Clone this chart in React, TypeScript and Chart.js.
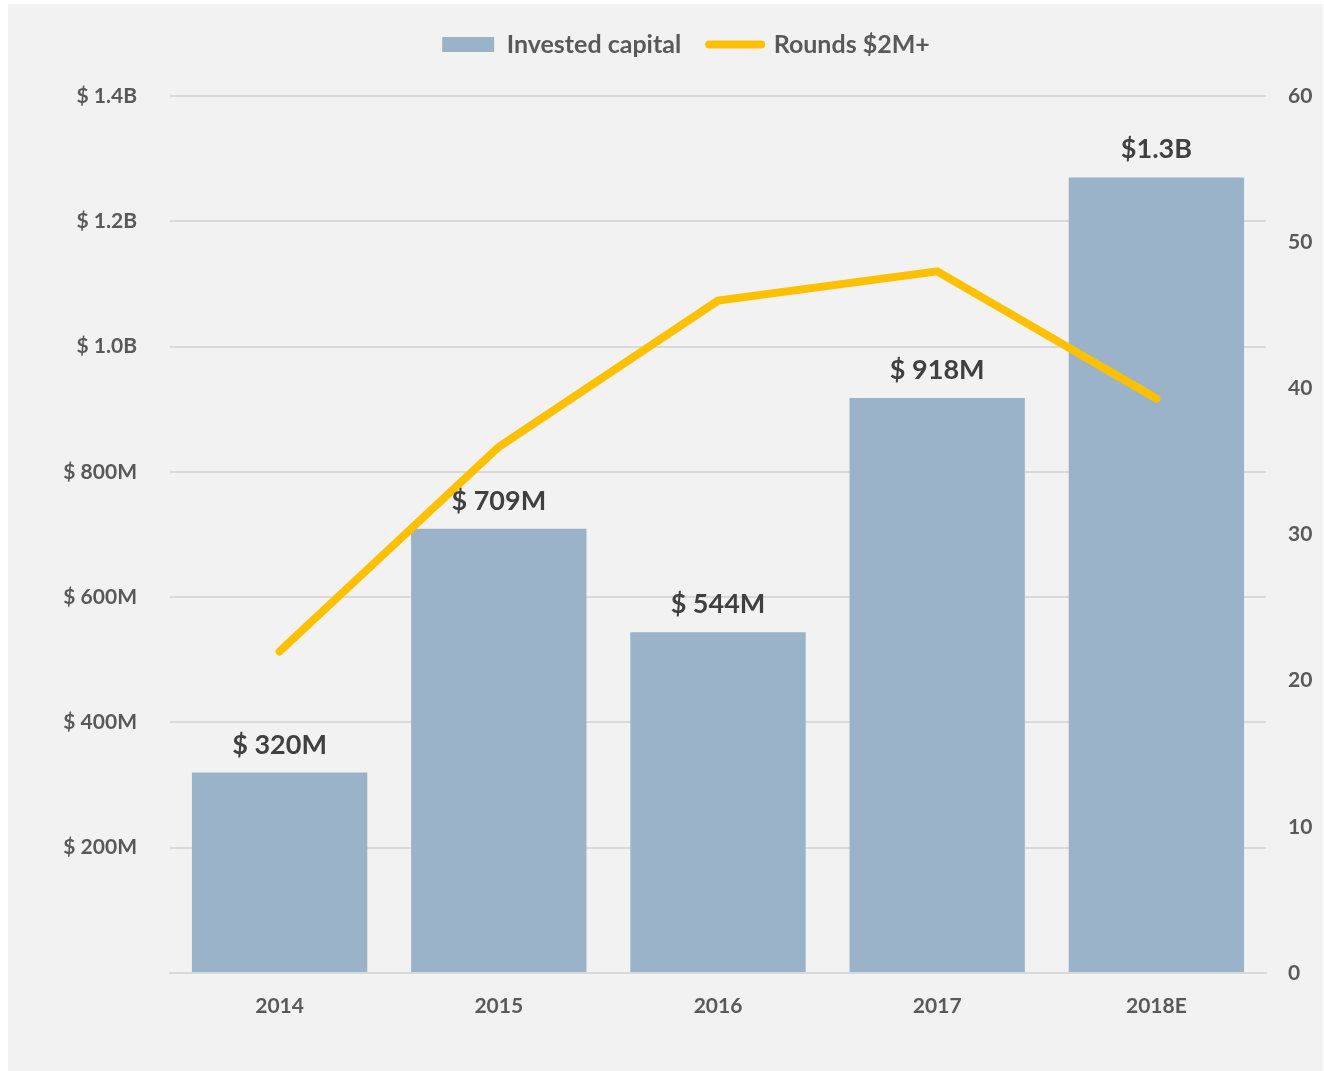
import React, { useEffect, useRef } from "react";
import { Chart, registerables } from "chart.js";

Chart.register(...registerables);

const categories = ["2014", "2015", "2016", "2017", "2018E"];
const investedCapital = [320, 709, 544, 918, 1270];
const investedLabels = ["$ 320M", "$ 709M", "$ 544M", "$ 918M", "$1.3B"];
const rounds = [22, 36, 46, 48, 39.3];
const leftTicks: Record<number, string> = {
  0: "",
  200: "$ 200M",
  400: "$ 400M",
  600: "$ 600M",
  800: "$ 800M",
  1000: "$ 1.0B",
  1200: "$ 1.2B",
  1400: "$ 1.4B",
};

const BAR_COLOR = "#9AB3C9";
const LINE_COLOR = "#FFC000";
const TEXT_COLOR = "#595959";
const LABEL_COLOR = "#404040";
const GRID_COLOR = "#D9D9D9";
const FONT = "Lato, 'Open Sans', sans-serif";

const W = 1315;
const H = 1067;
const PAD_LEFT = 41;

const barLabelPlugin = {
  id: "barLabels",
  afterDatasetsDraw(chart: any) {
    const meta = chart.getDatasetMeta(0);
    const ctx = chart.ctx;
    ctx.save();
    ctx.font = `bold 27px ${FONT}`;
    ctx.fillStyle = LABEL_COLOR;
    ctx.textAlign = "center";
    ctx.textBaseline = "alphabetic";
    meta.data.forEach((bar: any, i: number) => {
      ctx.fillText(investedLabels[i], bar.x, bar.y - 19);
    });
    ctx.restore();
  },
};

export default function App() {
  const ref = useRef<HTMLCanvasElement | null>(null);
  useEffect(() => {
    if (!ref.current) return;
    const chart = new Chart(ref.current, {
      type: "bar",
      data: {
        labels: categories,
        datasets: [
          {
            type: "bar",
            label: "Invested capital",
            data: investedCapital,
            backgroundColor: BAR_COLOR,
            borderWidth: 0,
            yAxisID: "y",
            categoryPercentage: 0.8,
            barPercentage: 1.0,
            order: 1,
          },
          {
            type: "line",
            label: "Rounds $2M+",
            data: rounds,
            borderColor: LINE_COLOR,
            backgroundColor: LINE_COLOR,
            borderWidth: 8,
            pointRadius: 0,
            tension: 0,
            borderCapStyle: "round",
            borderJoinStyle: "miter",
            yAxisID: "y1",
            order: 0,
          } as any,
        ],
      },
      options: {
        responsive: false,
        animation: false,
        layout: { padding: { top: 0, left: PAD_LEFT, right: 0, bottom: 38 } },
        plugins: {
          tooltip: { enabled: false },
          title: {
            display: true,
            text: "",
            weight: 500,
            font: { size: 1, lineHeight: 1 },
            padding: { top: 0, bottom: 28 },
          } as any,
          legend: {
            display: true,
            position: "top",
            labels: {
              usePointStyle: true,
              pointStyleWidth: 52,
              boxHeight: 15,
              padding: 28,
              color: TEXT_COLOR,
              font: { family: FONT, size: 25, weight: "bold" },
              generateLabels: () => [
                {
                  text: "Invested capital",
                  fillStyle: BAR_COLOR,
                  strokeStyle: BAR_COLOR,
                  lineWidth: 0,
                  pointStyle: "rect",
                  hidden: false,
                  datasetIndex: 0,
                  fontColor: TEXT_COLOR,
                },
                {
                  text: "Rounds $2M+",
                  fillStyle: LINE_COLOR,
                  strokeStyle: LINE_COLOR,
                  lineWidth: 8,
                  lineCap: "round",
                  pointStyle: "line",
                  hidden: false,
                  datasetIndex: 1,
                  fontColor: TEXT_COLOR,
                } as any,
              ],
            },
          },
        },
        scales: {
          x: {
            grid: { display: false },
            border: { display: true, color: GRID_COLOR, width: 2 },
            ticks: {
              color: TEXT_COLOR,
              font: { family: FONT, size: 21, weight: "bold" },
              padding: 13,
            },
            afterFit: (scale: any) => {
              scale.height = 60;
            },
          },
          y: {
            position: "left",
            min: 0,
            max: 1400,
            border: { display: false },
            grid: { color: GRID_COLOR, lineWidth: 2, drawTicks: false },
            ticks: {
              stepSize: 200,
              padding: 33,
              color: TEXT_COLOR,
              font: { family: FONT, size: 21, weight: "bold" },
              callback: (v: any) => leftTicks[Number(v)] ?? "",
            },
            afterFit: (scale: any) => {
              scale.width = 162 - PAD_LEFT;
            },
          },
          y1: {
            position: "right",
            min: 0,
            max: 60,
            border: { display: false },
            grid: { display: false, drawTicks: false },
            ticks: {
              stepSize: 10,
              padding: 22,
              color: TEXT_COLOR,
              font: { family: FONT, size: 21, weight: "bold" },
            },
            afterFit: (scale: any) => {
              scale.width = 57;
            },
          },
        },
      },
      plugins: [barLabelPlugin],
    });
    return () => chart.destroy();
  }, []);

  return (
    <div
      style={{
        position: "absolute",
        left: 8,
        top: 4,
        width: W,
        height: H,
        background: "#F2F2F2",
      }}
    >
      <canvas ref={ref} width={W} height={H} style={{ display: "block" }} />
    </div>
  );
}
